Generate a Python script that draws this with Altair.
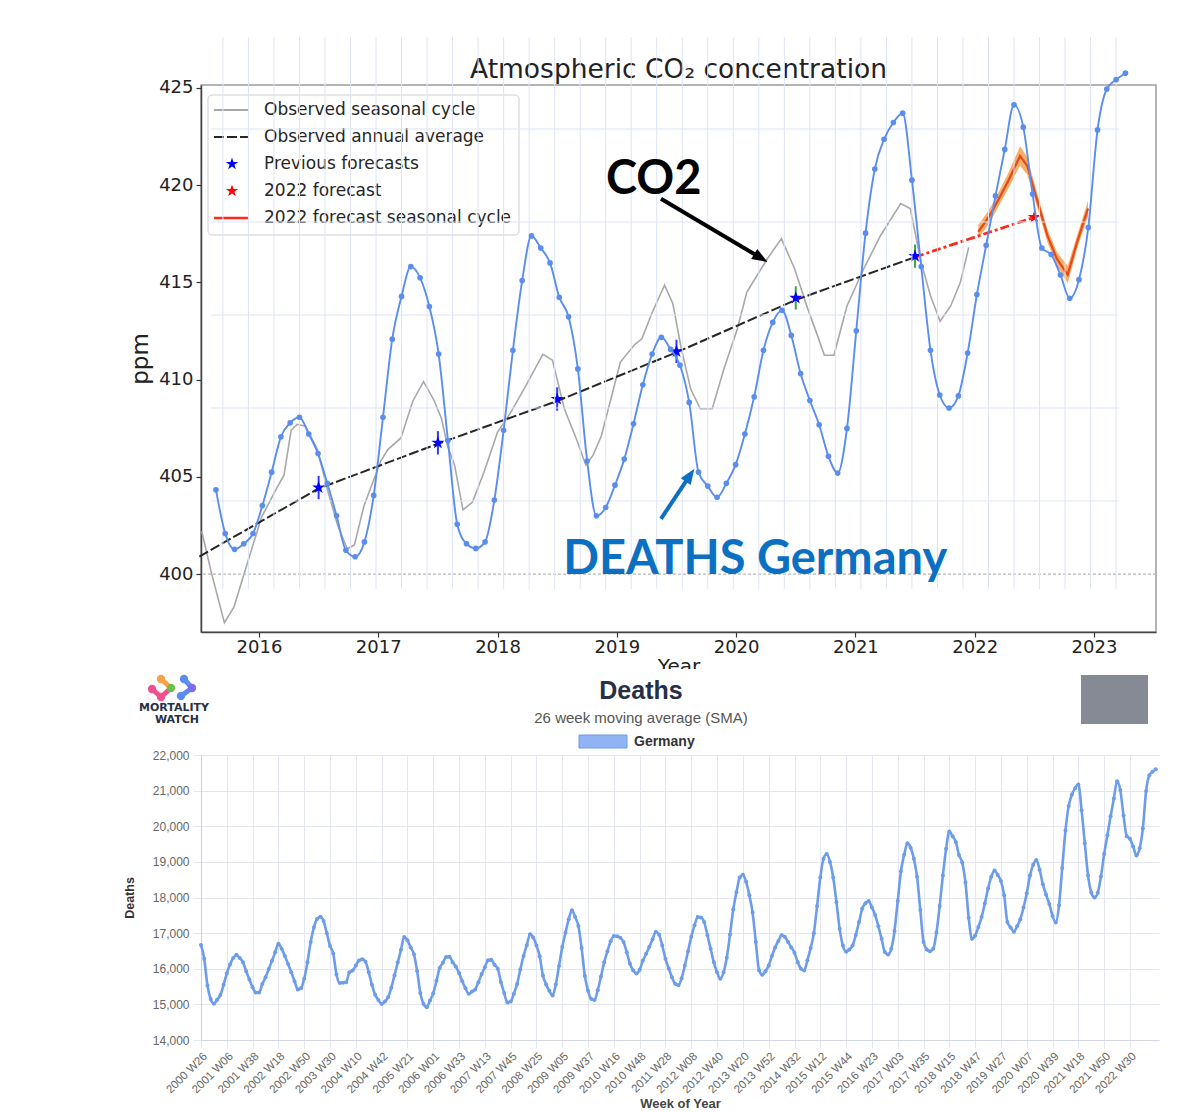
import json
import math
import altair as alt
import pandas as pd

# =====================================================================
# DATA
# =====================================================================
# Deaths in Germany, 26-week moving average (Mortality Watch).
# One value every 4th ISO week; first value = 2000 W26 (week index 0).
WEEK_STEP = 4
deaths_2000 = [16670, 16280, 15530, 15150, 15020, 15130, 15260, 15550, 15870, 16120, 16300, 16390, 16300]
deaths_2001 = [16185, 15930, 15700, 15480, 15330, 15330, 15570, 15760, 15990, 16225, 16460, 16700, 16560]
deaths_2002 = [16360, 16130, 15900, 15650, 15420, 15450, 15720, 16185, 16750, 17160, 17400, 17460, 17340]
deaths_2003 = [17000, 16640, 16430, 15840, 15600, 15610, 15620, 15900, 15950, 16090, 16230, 16270, 16200]
deaths_2004 = [15900, 15550, 15270, 15120, 15010, 15080, 15200, 15470, 15820, 16180, 16530, 16890, 16800]
deaths_2005 = [16600, 16410, 15940, 15320, 15010, 14920, 15110, 15310, 15660, 16020, 16170, 16330, 16340]
deaths_2006 = [16185, 16060, 15880, 15650, 15450, 15300, 15360, 15420, 15620, 15850, 16040, 16240, 16250]
deaths_2007 = [16110, 16000, 15620, 15320, 15050, 15080, 15300, 15570, 15980, 16360, 16660, 16970, 16880]
deaths_2008 = [16650, 16350, 15810, 15560, 15380, 15250, 15560, 16080, 16610, 17010, 17390, 17640, 17450]
deaths_2009 = [17200, 16580, 15800, 15380, 15150, 15120, 15400, 15780, 16185, 16490, 16770, 16920, 16910]
deaths_2010 = [16870, 16750, 16460, 16140, 15950, 15870, 15970, 16230, 16420, 16620, 16830, 17040, 16960]
deaths_2011 = [16650, 16280, 16010, 15760, 15580, 15540, 15730, 16090, 16490, 16900, 17220, 17450, 17440]
deaths_2012 = [17310, 16940, 16560, 16180, 15900, 15720, 15900, 16310, 16960, 17660, 18150, 18560, 18640]
deaths_2013 = [18440, 18060, 17580, 16750, 15960, 15830, 15930, 16090, 16360, 16600, 16780, 16940, 16900]
deaths_2014 = [16750, 16600, 16450, 16185, 16000, 15950, 16240, 16580, 17000, 17760, 18560, 19090, 19220]
deaths_2015 = [19000, 18560, 17870, 17120, 16650, 16480, 16540, 16650, 16950, 17310, 17690, 17840, 17900]
deaths_2016 = [17720, 17510, 17190, 16840, 16470, 16400, 16560, 17060, 17900, 18740, 19200, 19520, 19400]
deaths_2017 = [19090, 18580, 17650, 16750, 16540, 16490, 16560, 17010, 17760, 18620, 19370, 19850, 19720]
deaths_2018 = [19560, 19190, 18980, 18420, 17430, 16840, 16930, 17170, 17450, 17830, 18250, 18580, 18760]
deaths_2019 = [18630, 18460, 18060, 17310, 17160, 17040, 17190, 17390, 17720, 18120, 18620, 18920, 19050]
deaths_2020 = [18780, 18370, 18080, 17820, 17480, 17300, 17780, 18830, 19880, 20570, 20890, 21070, 21170]
deaths_2021 = [20450, 19520, 18620, 18140, 18000, 18130, 18590, 19220, 19750, 20280, 20780, 21260, 21020]
deaths_2022 = [20300, 19720, 19650, 19430, 19180, 19380, 19940, 20990, 21430, 21530, 21600]
DEATHS_CHUNKS = [deaths_2000, deaths_2001, deaths_2002, deaths_2003, deaths_2004, deaths_2005,
                 deaths_2006, deaths_2007, deaths_2008, deaths_2009, deaths_2010, deaths_2011,
                 deaths_2012, deaths_2013, deaths_2014, deaths_2015, deaths_2016, deaths_2017,
                 deaths_2018, deaths_2019, deaths_2020, deaths_2021, deaths_2022]

WEEKS_PER_TICK = 32
week_tick_labels = ["2000 W26", "2001 W06", "2001 W38", "2002 W18", "2002 W50", "2003 W30",
                    "2004 W10", "2004 W42", "2005 W21", "2006 W01", "2006 W33", "2007 W13",
                    "2007 W45", "2008 W25", "2009 W05", "2009 W37", "2010 W16", "2010 W48",
                    "2011 W28", "2012 W08", "2012 W40", "2013 W20", "2013 W52", "2014 W32",
                    "2015 W12", "2015 W44", "2016 W23", "2017 W03", "2017 W35", "2018 W15",
                    "2018 W47", "2019 W27", "2020 W07", "2020 W39", "2021 W18", "2021 W50",
                    "2022 W30"]
deaths_ticks = [14000, 15000, 16000, 17000, 18000, 19000, 20000, 21000, 22000]

# Atmospheric CO2 panel
co2_year_ticks = [2016, 2017, 2018, 2019, 2020, 2021, 2022, 2023]
ppm_ticks = [400, 405, 410, 415, 420, 425]

seasonal_year = [2015.52, 2015.60, 2015.71, 2015.79, 2015.88, 2016.02, 2016.13, 2016.21, 2016.27, 2016.32,
                 2016.39, 2016.49, 2016.58, 2016.66, 2016.74, 2016.80, 2016.88, 2017.02, 2017.08, 2017.19,
                 2017.29, 2017.38, 2017.47, 2017.53, 2017.58, 2017.64, 2017.71, 2017.79, 2017.89, 2018.00,
                 2018.11, 2018.22, 2018.38, 2018.46, 2018.56, 2018.67, 2018.74, 2018.80, 2018.87, 2018.95,
                 2019.03, 2019.15, 2019.21, 2019.30, 2019.40, 2019.47, 2019.54, 2019.62, 2019.70, 2019.80,
                 2019.90, 2020.01, 2020.09, 2020.26, 2020.38, 2020.49, 2020.60, 2020.68, 2020.74, 2020.82,
                 2020.93, 2021.07, 2021.21, 2021.38, 2021.46, 2021.55, 2021.63, 2021.71, 2021.80, 2021.88,
                 2021.95]
seasonal_ppm = [402.2, 400.1, 397.5, 398.3, 400.1, 402.9, 404.2, 405.1, 407.4, 407.7,
                407.6, 406.4, 404.2, 402.5, 401.3, 401.5, 403.5, 405.8, 406.4, 407.0,
                408.9, 409.9, 408.9, 408.0, 406.6, 405.6, 403.3, 403.7, 405.3, 407.3,
                408.3, 409.5, 411.3, 411.0, 408.5, 406.8, 405.6, 406.1, 407.1, 409.0,
                410.9, 411.8, 412.1, 413.5, 414.85, 413.9, 411.6, 409.5, 408.5, 408.5,
                410.6, 412.6, 414.5, 416.2, 417.25, 415.7, 413.65, 412.3, 411.25, 411.25,
                413.8, 415.7, 417.4, 419.05, 418.8, 416.05, 414.3, 413.0, 413.8, 415.0,
                416.8]

annual_year = [2015.5, 2016.5, 2017.5, 2018.5, 2019.5, 2020.5, 2021.5]
annual_ppm = [400.9, 404.4, 406.7, 408.9, 411.4, 414.1, 416.3]

prev_fc_year = [2016.5, 2017.5, 2018.5, 2019.5, 2020.5, 2021.5]
prev_fc_ppm = [404.45, 406.75, 409.0, 411.45, 414.2, 416.35]
prev_fc_err = [0.6, 0.6, 0.6, 0.6, 0.6, 0.6]
prev_fc_err_color = ["#2a3cff", "#2a3cff", "#2a3cff", "#2a3cff", "#3fa142", "#3fa142"]

fc2022_year = [2022.5]
fc2022_ppm = [418.35]
fc_line_year = [2021.5, 2022.5]
fc_line_ppm = [416.3, 418.35]

fc_cycle_year = [2022.03, 2022.10, 2022.16, 2022.28, 2022.38, 2022.44, 2022.53, 2022.61, 2022.69, 2022.78, 2022.86, 2022.95]
fc_cycle_ppm = [417.6, 418.2, 418.8, 420.2, 421.5, 421.0, 419.1, 417.4, 416.2, 415.4, 417.1, 418.8]
fc_cycle_half = [0.35, 0.35, 0.35, 0.4, 0.5, 0.45, 0.35, 0.35, 0.35, 0.45, 0.35, 0.4]

legend_labels = ["Observed seasonal cycle", "Observed annual average", "Previous forecasts",
                 "2022 forecast", "2022 forecast seasonal cycle"]

# annotation anchors (year, ppm)
co2_text_at = (2019.31, 419.55)
co2_arrow_tail, co2_arrow_head = (2019.37, 419.3), (2020.264, 416.05)
deaths_text_at = (2020.16, 400.0)
deaths_arrow_tail, deaths_arrow_head = (2019.37, 402.84), (2019.65, 405.42)

# overlay (pasted Mortality Watch chart): its own week / deaths frame
overlay_grid_weeks = list(range(795, 1181, 11))
overlay_grid_deaths = [17000, 18000, 19000, 20000, 21000]
OVERLAY_FIRST_WEEK = 792

# =====================================================================
# LAYOUT / STYLE
# =====================================================================
MPL = "DejaVu Sans"
CJS = "Liberation Sans"
W_TOP, H_TOP = 955, 547
W_BOT, H_BOT = 958, 285
YEAR_DOMAIN = [2015.514, 2023.52]
PPM_DOMAIN = [397.02, 425.15]
# the pasted deaths chart spans the same plot box with these limits
OVL_WEEK_DOMAIN = [785.56, 1197.2]
OVL_DEATHS_DOMAIN = [15591, 21473]
BOT_WEEK_DOMAIN = [0, 1188]
BOT_DEATHS_DOMAIN = [14000, 22000]

STAR = ("M0,-1L0.2245,-0.309L0.9511,-0.309L0.3633,0.118L0.5878,0.809L0,0.382"
        "L-0.5878,0.809L-0.3633,0.118L-0.9511,-0.309L-0.2245,-0.309Z")
ARROWHEAD = "M0,0L0.8,2.1L-0.8,2.1Z"

PX_PER_YEAR = W_TOP / (YEAR_DOMAIN[1] - YEAR_DOMAIN[0])
PX_PER_PPM = H_TOP / (PPM_DOMAIN[1] - PPM_DOMAIN[0])
YEARS_PER_OVL_WEEK = (YEAR_DOMAIN[1] - YEAR_DOMAIN[0]) / (OVL_WEEK_DOMAIN[1] - OVL_WEEK_DOMAIN[0])
PPM_PER_OVL_DEATH = (PPM_DOMAIN[1] - PPM_DOMAIN[0]) / (OVL_DEATHS_DOMAIN[1] - OVL_DEATHS_DOMAIN[0])
OVL_YEAR_EXPR = f"{YEAR_DOMAIN[0]} + (datum.week - {OVL_WEEK_DOMAIN[0]}) * {YEARS_PER_OVL_WEEK}"
OVL_PPM_EXPR = f"{PPM_DOMAIN[0]} + (datum.deaths - {OVL_DEATHS_DOMAIN[0]}) * {PPM_PER_OVL_DEATH}"

# =====================================================================
# TOP PANEL
# =====================================================================
xs = alt.Scale(domain=YEAR_DOMAIN, nice=False, zero=False)
ys = alt.Scale(domain=PPM_DOMAIN, nice=False, zero=False)
x_axis_top = alt.Axis(values=co2_year_ticks, tickCount=50, format="d", title="Year", grid=False,
                      labelFont=MPL, labelFontSize=18, labelColor="#222", labelPadding=1,
                      tickSize=5, tickColor="#333", tickWidth=1.2,
                      domainColor="#444", domainWidth=1.5,
                      titleFont=MPL, titleFontSize=20, titleFontWeight="normal",
                      titleColor="#222", titlePadding=0)
y_axis_top = alt.Axis(values=ppm_ticks, tickCount=50, format="d", title="ppm", grid=False,
                      labelFont=MPL, labelFontSize=18, labelColor="#222", labelPadding=3,
                      tickSize=5, tickColor="#333", tickWidth=1.2,
                      domainColor="#444", domainWidth=1.5,
                      titleFont=MPL, titleFontSize=23, titleFontWeight="normal",
                      titleColor="#222", titlePadding=6)


def X(field="year"):
    return alt.X(f"{field}:Q", scale=xs, axis=x_axis_top)


def Y(field="ppm"):
    return alt.Y(f"{field}:Q", scale=ys, axis=y_axis_top)


seasonal_df = pd.DataFrame({"year": seasonal_year, "ppm": seasonal_ppm})
annual_df = pd.DataFrame({"year": annual_year, "ppm": annual_ppm})
prev_df = pd.DataFrame({"year": prev_fc_year, "ppm": prev_fc_ppm,
                        "lo": [p - e for p, e in zip(prev_fc_ppm, prev_fc_err)],
                        "hi": [p + e for p, e in zip(prev_fc_ppm, prev_fc_err)],
                        "c": prev_fc_err_color})
fc_df = pd.DataFrame({"year": fc2022_year, "ppm": fc2022_ppm})
fcl_df = pd.DataFrame({"year": fc_line_year, "ppm": fc_line_ppm})
band_df = pd.DataFrame({"year": fc_cycle_year, "ppm": fc_cycle_ppm,
                        "lo": [p - h for p, h in zip(fc_cycle_ppm, fc_cycle_half)],
                        "hi": [p + h for p, h in zip(fc_cycle_ppm, fc_cycle_half)]})

seasonal = alt.Chart(seasonal_df).mark_line(color="#a8a8a8", strokeWidth=1.6).encode(x=X(), y=Y())
rule400 = alt.Chart(pd.DataFrame({"ppm": [400]})).mark_rule(
    color="#b8b8b8", strokeDash=[3, 2], strokeWidth=1.2).encode(y=Y())
annual = alt.Chart(annual_df).mark_line(color="#262626", strokeWidth=2, strokeDash=[10, 3]).encode(
    x=X(), y=Y())
band = alt.Chart(band_df).mark_area(color="#f7a24e", opacity=0.85).encode(
    x=X(), y=Y("lo"), y2="hi:Q")
band_center = alt.Chart(band_df).mark_line(color="#e5481c", strokeWidth=2.2).encode(x=X(), y=Y())
fc_line = alt.Chart(fcl_df).mark_line(color="#ff2a1a", strokeWidth=2.8, strokeDash=[9, 3, 3, 3]).encode(
    x=X(), y=Y())
err = alt.Chart(prev_df).mark_rule(strokeWidth=2).encode(
    x=X(), y=Y("lo"), y2="hi:Q", color=alt.Color("c:N", scale=None))
prev_stars = alt.Chart(prev_df).mark_point(shape=STAR, filled=True, size=190, color="#0000ff",
                                           opacity=1, strokeWidth=0).encode(x=X(), y=Y())
fc_star = alt.Chart(fc_df).mark_point(shape=STAR, filled=True, size=190, color="#ff0000",
                                      opacity=1, strokeWidth=0).encode(x=X(), y=Y())

# legend box + title (pixel positioned decoration)
one = pd.DataFrame({"a": [0]})
leg_box = alt.Chart(one).mark_rect(fill="white", fillOpacity=0.85, stroke="#cfcfcf",
                                   strokeWidth=1, cornerRadius=4).encode(
    x=alt.value(7), x2=alt.value(318), y=alt.value(10), y2=alt.value(150))
leg_rows = [25, 52, 79, 106, 133]
leg_l0 = alt.Chart(one).mark_rule(color="#a8a8a8", strokeWidth=1.8).encode(
    x=alt.value(13), x2=alt.value(47), y=alt.value(leg_rows[0]))
leg_l1 = alt.Chart(one).mark_rule(color="#262626", strokeWidth=2, strokeDash=[10, 3]).encode(
    x=alt.value(13), x2=alt.value(47), y=alt.value(leg_rows[1]))
leg_s2 = alt.Chart(one).mark_point(shape=STAR, filled=True, size=170, color="#0000ff", opacity=1,
                                   strokeWidth=0).encode(x=alt.value(31), y=alt.value(leg_rows[2]))
leg_s3 = alt.Chart(one).mark_point(shape=STAR, filled=True, size=170, color="#ff0000", opacity=1,
                                   strokeWidth=0).encode(x=alt.value(31), y=alt.value(leg_rows[3]))
leg_l4 = alt.Chart(one).mark_rule(color="#ff2a1a", strokeWidth=2.4).encode(
    x=alt.value(13), x2=alt.value(47), y=alt.value(leg_rows[4]))
leg_texts = [alt.Chart(one).mark_text(text=lab, align="left", baseline="middle", font=MPL,
                                      fontSize=17, color="#262626").encode(
    x=alt.value(63), y=alt.value(row)) for lab, row in zip(legend_labels, leg_rows)]
top_title = alt.Chart(one).mark_text(
    text="Atmospheric CO₂ concentration", align="center", baseline="alphabetic",
    font=MPL, fontSize=26.5, color="#222").encode(x=alt.value(W_TOP / 2), y=alt.value(-7))

# overlay of the deaths curve, placed in the pasted chart's own frame
deaths_all = [v for c in DEATHS_CHUNKS for v in c]
weeks_all = [i * WEEK_STEP for i in range(len(deaths_all))]
deaths_df = pd.DataFrame({"week": weeks_all, "deaths": deaths_all})
ovl_df = deaths_df[deaths_df["week"] >= OVERLAY_FIRST_WEEK]

ovl_vgrid = alt.Chart(pd.DataFrame({"week": overlay_grid_weeks})).transform_calculate(
    year=OVL_YEAR_EXPR).mark_rule(color="#dde4f6", strokeWidth=1).encode(
    x=X(), y=alt.value(-48), y2=alt.value(504))
ovl_hgrid = alt.Chart(pd.DataFrame({"deaths": overlay_grid_deaths})).transform_calculate(
    ppm=OVL_PPM_EXPR).mark_rule(color="#dde4f6", strokeWidth=1).encode(
    y=Y(), x=alt.value(10), x2=alt.value(918))
ovl_base = alt.Chart(ovl_df).transform_calculate(year=OVL_YEAR_EXPR, ppm=OVL_PPM_EXPR)
ovl_line = ovl_base.mark_line(color="#5b8def", strokeWidth=1.9, interpolate="monotone").encode(
    x=X(), y=Y())
ovl_pts = ovl_base.mark_point(color="#5b8def", filled=True, size=32, opacity=1).encode(
    x=X(), y=Y())


# annotations (CO2 / DEATHS Germany with arrows), in data coordinates
def arrow(tail, head, color, width, size):
    dx = (head[0] - tail[0]) * PX_PER_YEAR
    dy = -(head[1] - tail[1]) * PX_PER_PPM
    ang = math.degrees(math.atan2(dx, -dy)) % 360
    length = math.hypot(dx, dy)
    back = 8.0
    end = (head[0] - dx / length * back / PX_PER_YEAR, head[1] + dy / length * back / PX_PER_PPM)
    shaft = alt.Chart(pd.DataFrame({"year": [tail[0], end[0]], "ppm": [tail[1], end[1]]})).mark_line(
        color=color, strokeWidth=width, strokeCap="butt").encode(x=X(), y=Y())
    tip = alt.Chart(pd.DataFrame({"year": [head[0]], "ppm": [head[1]]})).mark_point(
        shape=ARROWHEAD, filled=True, size=size, color=color, opacity=1, strokeWidth=0,
        angle=ang).encode(x=X(), y=Y())
    return shaft, tip


co2_shaft, co2_tip = arrow(co2_arrow_tail, co2_arrow_head, "#000000", 4, 220)
d_shaft, d_tip = arrow(deaths_arrow_tail, deaths_arrow_head, "#0b70c2", 4, 220)
co2_text = alt.Chart(pd.DataFrame({"year": [co2_text_at[0]], "ppm": [co2_text_at[1]], "t": ["CO2"]})).mark_text(
    font="Lato", fontWeight="bold", fontSize=47, color="#000000", align="center",
    baseline="alphabetic").encode(x=X(), y=Y(), text="t:N")
d_text = alt.Chart(pd.DataFrame({"year": [deaths_text_at[0]], "ppm": [deaths_text_at[1]],
                                 "t": ["DEATHS Germany"]})).mark_text(
    font="Lato", fontWeight="bold", fontSize=47, color="#0b70c2", align="center",
    baseline="alphabetic").encode(x=X(), y=Y(), text="t:N")

top = alt.layer(
    seasonal, rule400, annual, band, band_center, fc_line, err, prev_stars, fc_star,
    leg_box, leg_l0, leg_l1, leg_s2, leg_s3, leg_l4, *leg_texts, top_title,
    ovl_vgrid, ovl_hgrid, ovl_line, ovl_pts,
    co2_shaft, co2_tip, co2_text, d_shaft, d_tip, d_text,
).properties(width=W_TOP, height=H_TOP,
             view=alt.ViewBackground(stroke="#9c9c9c", strokeWidth=1.5))

# =====================================================================
# BOTTOM PANEL (Mortality Watch)
# =====================================================================
bxs = alt.Scale(domain=BOT_WEEK_DOMAIN, nice=False, zero=False)
bys = alt.Scale(domain=BOT_DEATHS_DOMAIN, nice=False, zero=False)
GRID = "#e4e7f1"
label_expr = f"{json.dumps(week_tick_labels)}[round(datum.value / {WEEKS_PER_TICK})]"
bx_axis = alt.Axis(values=[i * WEEKS_PER_TICK for i in range(len(week_tick_labels))], tickCount=100,
                   labelExpr=label_expr, labelAngle=315, labelAlign="right", labelBaseline="top",
                   labelOverlap=False, labelFont=CJS, labelFontSize=11.5, labelColor="#666",
                   labelPadding=2, tickSize=8, tickColor=GRID, grid=True, gridColor=GRID,
                   domainColor="#d3d7e5", title="Week of Year", titleFont=CJS, titleFontSize=13,
                   titleFontWeight="bold", titleColor="#444", titleY=63, titleBaseline="middle")
by_axis = alt.Axis(values=deaths_ticks, tickCount=100, format=",.0f", labelFont=CJS, labelFontSize=12,
                   labelOverlap=False, labelColor="#666", labelPadding=4, tickSize=8, tickColor=GRID,
                   grid=True, gridColor=GRID, domainColor="#cbd0e2",
                   title="Deaths", titleFont=CJS, titleFontSize=12.5,
                   titleFontWeight="bold", titleColor="#333", titlePadding=16)


def BX():
    return alt.X("week:Q", scale=bxs, axis=bx_axis)


def BY():
    return alt.Y("deaths:Q", scale=bys, axis=by_axis)


cover = alt.Chart(one).mark_rect(color="white").encode(
    x=alt.value(430), x2=alt.value(540), y=alt.value(-86), y2=alt.value(-62))
anchor = alt.Chart(one).mark_rule(color="white", strokeWidth=1).encode(
    x=alt.value(-150), y=alt.value(0), y2=alt.value(2))
b_line = alt.Chart(deaths_df).mark_line(color="#6c9cea", strokeWidth=2.6, interpolate="monotone").encode(
    x=BX(), y=BY())
b_pts = alt.Chart(deaths_df).mark_point(color="#6c9cea", filled=True, size=16, opacity=1).encode(
    x=BX(), y=BY())
b_title = alt.Chart(one).mark_text(text="Deaths", font=CJS, fontWeight="bold", fontSize=25,
                                   color="#262f46", align="center", baseline="alphabetic").encode(
    x=alt.value(440), y=alt.value(-56))
b_sub = alt.Chart(one).mark_text(text="26 week moving average (SMA)", font=CJS, fontSize=15,
                                 color="#555", align="center", baseline="alphabetic").encode(
    x=alt.value(440), y=alt.value(-32))
b_swatch = alt.Chart(one).mark_rect(fill="#8fb3f3", stroke="#6c9cea", strokeWidth=1).encode(
    x=alt.value(378), x2=alt.value(426), y=alt.value(-20), y2=alt.value(-7))
b_germany = alt.Chart(one).mark_text(text="Germany", font=CJS, fontWeight="bold", fontSize=14,
                                     color="#333", align="left", baseline="alphabetic").encode(
    x=alt.value(433), y=alt.value(-9))
qr = alt.Chart(one).mark_rect(fill="#858a95").encode(
    x=alt.value(880), x2=alt.value(947), y=alt.value(-80), y2=alt.value(-31))

logo_seg = pd.DataFrame({
    "px": [-49, -40, -30, -40, -30, -20, -20, -9, -17, -9],
    "py": [-66, -58, -67, -76, -67, -59, -59, -67, -76, -67],
    "g":  ["p", "p", "p", "o", "o", "gr", "b", "b", "b2", "b2"],
    "c":  ["#f0508e", "#f0508e", "#f0508e", "#f7a248", "#f7a248", "#6cc04a", "#5b8def", "#5b8def",
           "#5b8def", "#5b8def"]})
logo_lines = alt.Chart(logo_seg).mark_line(strokeWidth=5, strokeCap="round").encode(
    x=alt.X("px:Q", scale=None), y=alt.Y("py:Q", scale=None), detail="g:N",
    color=alt.Color("c:N", scale=None))
logo_dot_df = pd.DataFrame({"px": [-49, -40, -30, -17, -9, -40, -20],
                            "py": [-66, -76, -67, -76, -67, -58, -59],
                            "c": ["#f0508e", "#f7a248", "#6cc04a", "#5b8def", "#7b6cf0", "#f0508e", "#5b8def"]})
logo_dots = alt.Chart(logo_dot_df).mark_point(filled=True, size=70, opacity=1).encode(
    x=alt.X("px:Q", scale=None), y=alt.Y("py:Q", scale=None), color=alt.Color("c:N", scale=None))
logo_t1 = alt.Chart(one).mark_text(text="MORTALITY", font=MPL, fontWeight="bold", fontSize=11,
                                   color="#2a2f45", align="center", baseline="alphabetic").encode(
    x=alt.value(-27), y=alt.value(-44))
logo_t2 = alt.Chart(one).mark_text(text="WATCH", font=MPL, fontWeight="bold", fontSize=11,
                                   color="#2a2f45", align="center", baseline="alphabetic").encode(
    x=alt.value(-24), y=alt.value(-32))

bottom = alt.layer(cover, anchor, b_line, b_pts, b_title, b_sub, b_swatch, b_germany, qr,
                   logo_lines, logo_dots, logo_t1, logo_t2).properties(width=W_BOT, height=H_BOT)

chart = alt.vconcat(top, bottom, spacing=123, bounds="flush").properties(
    padding={"left": 42, "top": 27, "right": 5, "bottom": 5},
    background="white").configure_view(stroke="transparent")

chart.save("out.html", embed_options={"renderer": "svg", "actions": False})
